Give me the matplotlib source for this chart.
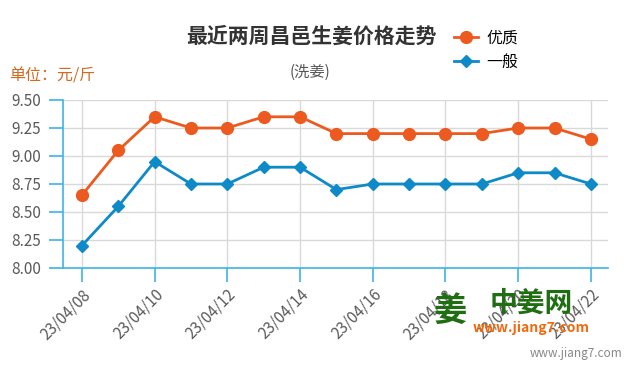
import matplotlib
matplotlib.use('Agg')
import matplotlib.pyplot as plt

plt.rcParams['font.family'] = ['Noto Sans CJK SC', 'DejaVu Sans']

dates = ['23/04/08', '23/04/09', '23/04/10', '23/04/11', '23/04/12',
         '23/04/13', '23/04/14', '23/04/15', '23/04/16', '23/04/17',
         '23/04/18', '23/04/19', '23/04/20', '23/04/21', '23/04/22']
premium = [8.65, 9.05, 9.35, 9.25, 9.25, 9.35, 9.35, 9.20, 9.20, 9.20,
           9.20, 9.20, 9.25, 9.25, 9.15]
ordinary = [8.20, 8.55, 8.95, 8.75, 8.75, 8.90, 8.90, 8.70, 8.75, 8.75,
            8.75, 8.75, 8.85, 8.85, 8.75]
y_ticks = [8.00, 8.25, 8.50, 8.75, 9.00, 9.25, 9.50]

orange = '#ec5a1f'
blue = '#0e8ac8'
axis_blue = '#3cb4e6'

fig = plt.figure(figsize=(6.3, 3.75), dpi=100)
ax = fig.add_axes([63 / 630, 1 - 268 / 375, 545 / 630, 168 / 375])

x = list(range(len(dates)))
l1, = ax.plot(x, premium, color=orange, lw=2.0, marker='o', markersize=8.5,
              label='优质', zorder=3)
l2, = ax.plot(x, ordinary, color=blue, lw=2.0, marker='D', markersize=6,
              label='一般', zorder=3)

ax.set_xlim(-0.52, 14.47)
ax.set_ylim(8.0, 9.5)
ax.set_yticks(y_ticks)
ax.set_yticklabels([f'{v:.2f}' for v in y_ticks])
ax.set_xticks(x[::2])
ax.set_xticklabels(dates[::2], rotation=45, ha='right', rotation_mode='anchor')

ax.grid(True, color='#d9d9d9', lw=1)
ax.set_axisbelow(True)
for s in ['top', 'right']:
    ax.spines[s].set_visible(False)
for s in ['left', 'bottom']:
    ax.spines[s].set_color(axis_blue)
    ax.spines[s].set_linewidth(1.2)
ax.tick_params(axis='x', colors=axis_blue, length=10, width=1.2,
               labelcolor='#5a5a5a', labelsize=11, pad=3)
ax.tick_params(axis='y', colors=axis_blue, length=10, width=1.2,
               labelcolor='#5a5a5a', labelsize=11, pad=6)

fig.text(311 / 630, 1 - 36 / 375, '最近两周昌邑生姜价格走势', ha='center', va='center',
         fontsize=15, fontweight='bold', color='#333333')
fig.text(310 / 630, 1 - 72 / 375, '(洗姜)', ha='center', va='center',
         fontsize=11, color='#555555')
fig.text(9 / 630, 1 - 76 / 375, '单位：元/斤', ha='left', va='center',
         fontsize=11.5, color='#d2691e')

fig.legend(handles=[l1, l2], loc='upper left', bbox_to_anchor=(446 / 630, 1 - 22 / 375),
           frameon=False, fontsize=11.5, handlelength=1.5, handletextpad=0.5,
           labelspacing=0.4, borderpad=0)

# watermark
fig.text(450 / 630, 1 - 311 / 375, '姜', ha='center', va='center',
         fontsize=24, fontweight='bold', color='#1f6e12')
fig.text(531 / 630, 1 - 304 / 375, '中姜网', ha='center', va='center',
         fontsize=20, fontweight='bold', color='#1f6e12')
fig.text(531 / 630, 1 - 328 / 375, 'www.jiang7.com', ha='center', va='center',
         fontsize=10, fontweight='bold', fontstyle='italic', color='#f26a10')
fig.text(622 / 630, 1 - 354 / 375, 'www.jiang7.com', ha='right', va='center',
         fontsize=8.5, color='#888888')

fig.savefig('out.png', dpi=100)
